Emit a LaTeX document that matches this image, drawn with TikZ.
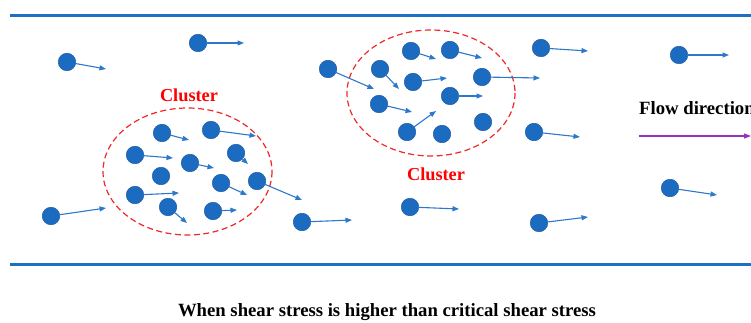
\documentclass[tikz,border=0pt]{standalone}
\usepackage{fontspec}
\setmainfont{Liberation Serif}
\usetikzlibrary{arrows.meta}
\definecolor{pblue}{RGB}{27,108,193}
\definecolor{pedge}{RGB}{30,90,160}
\definecolor{wallblue}{RGB}{31,112,194}
\definecolor{arrblue}{RGB}{45,120,200}
\definecolor{clred}{RGB}{240,40,40}
\definecolor{flowpurple}{RGB}{150,50,190}
\tikzset{
  pt/.style={circle,fill=pblue,draw=pedge,line width=0.5pt,minimum size=17.5pt,inner sep=0pt},
  mv/.style={arrblue,line width=1.1pt,-{Triangle[length=6.5pt,width=5pt]},shorten <=-1pt},
  wall/.style={wallblue,line width=3pt},
  clline/.style={clred,line width=1.2pt,dash pattern=on 6pt off 3.5pt},
  cltext/.style={text=red,font=\fontsize{18.3}{20}\selectfont\bfseries,inner sep=0pt},
  captext/.style={font=\fontsize{18.7}{20}\selectfont\bfseries,inner sep=0pt},
}
\newcommand{\prt}[3]{\node[pt] (#1) at (#2) {};\coordinate (#1e) at (#3);\draw[mv] (#1) -- (#1e);}
\begin{document}
\begin{tikzpicture}[x=1pt,y=-1pt]
\useasboundingbox (0,0) rectangle (751,323);
% walls
\coordinate (wtl) at (10,16); \coordinate (wtr) at (751,16);
\coordinate (wbl) at (10,264); \coordinate (wbr) at (751,264);
\draw[wall] (wtl) -- (wtr);
\draw[wall] (wbl) -- (wbr);
% clusters
\draw[clline] (187.5,171.5) ellipse (84.5 and 63.5);
\draw[clline] (431,93) ellipse (84 and 63);
\node[cltext] (c1) at (189,95) {Cluster};
\node[cltext] (c2) at (436,174) {Cluster};
% free particles
\prt{f1}{67,62}{106,69}
\prt{f2}{198,43}{244,43}
\prt{f3}{51,216}{106,208}
\prt{f4}{302,222}{352,220}
\prt{f5}{328,69}{374,89}
\prt{f6}{410,207}{459,209}
\prt{f7}{541,48}{588,51}
\prt{f8}{679,55}{729,55}
\prt{f9}{534,132}{580,137}
\prt{f10}{670,188}{717,195}
\prt{f11}{539,223}{588,217}
% cluster A
\prt{a1}{162,133}{189,140}
\prt{a2}{211,130}{256,136}
\prt{a3}{135,155}{173,158}
\prt{a4}{190,163}{214,168}
\prt{a5}{236,153}{248,164}
\node[pt] (a6) at (161,176) {};
\prt{a7}{221,183}{247,195}
\prt{a8}{257,181}{302,200}
\prt{a9}{135,195}{179,193}
\prt{a10}{168,207}{187,223}
\prt{a11}{213,211}{237,210}
% cluster B
\prt{b1}{411,51}{436,59}
\prt{b2}{450,50}{482,58}
\prt{b3}{380,69}{399,89}
\prt{b4}{413,82}{447,78}
\prt{b5}{482,77}{540,78}
\prt{b6}{379,104}{412,112}
\prt{b7}{450,96}{483,96}
\prt{b8}{407,132}{436,111}
\node[pt] (b9) at (442,134) {};
\node[pt] (b10) at (483,122) {};
% flow direction
\node[captext,anchor=west] (fd) at (639,108) {Flow direction};
\coordinate (fs) at (639,136); \coordinate (fe) at (751,136);
\draw[flowpurple,line width=1.1pt,-{Triangle[length=7pt,width=5pt]}] (fs) -- (fe);
% caption
\node[captext] (cap) at (387,312) {When shear stress is higher than critical shear stress};
\end{tikzpicture}
\end{document}
